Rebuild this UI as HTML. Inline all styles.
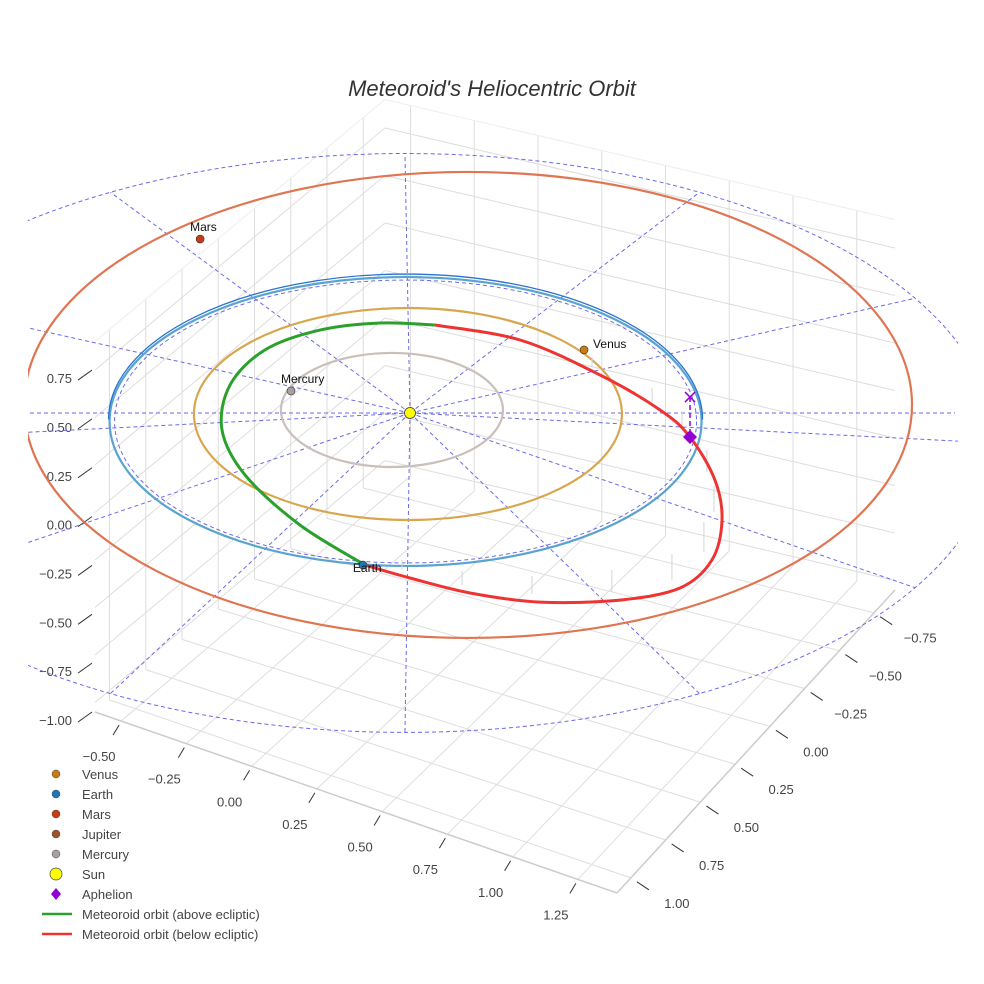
<!DOCTYPE html>
<html><head><meta charset="utf-8"><style>
body{margin:0;background:#fff}
svg{display:block;font-family:"Liberation Sans",sans-serif}
</style></head><body>
<svg id="chart" width="984" height="984" viewBox="0 0 984 984" xmlns="http://www.w3.org/2000/svg">
<rect width="984" height="984" fill="#fff"/>
<defs><clipPath id="clip"><rect x="28" y="95" width="930" height="680"/></clipPath></defs>
<text x="492" y="96" text-anchor="middle" font-size="22" font-style="italic" fill="#333">Meteoroid's Heliocentric Orbit</text>
<g id="box"></g>
<g id="axes"></g>
<g id="plot" clip-path="url(#clip)"></g>
<g id="legend"></g>
</svg>
<script>
// ---- data ----
const planetNames = ["Mercury","Venus","Earth","Mars"];
const orbitCx = [-0.061,-0.007,-0.015,0.196];
const orbitCy = [0.021,-0.007,-0.059,0.056];
const orbitA = [0.375,0.723,1.0,1.5];
const orbitB = [0.396,0.736,1.003,1.618];
const orbitColors = ["#c9bfbb","#d8a64c","#59a3cf","#e07552"];
const planetU = [-0.402,0.588,-0.159,-0.709];
const planetV = [0.153,0.438,-1.056,1.208];
const planetColors = ["#a8a0a0","#c97d10","#1f77b4","#c83c10"];
const greenU = [-0.152,-0.372,-0.557,-0.635,-0.608,-0.490,-0.304,-0.101,0.084];
const greenV = [-1.056,-0.778,-0.431,-0.118,0.194,0.438,0.576,0.625,0.611];
const redU = [0.084,0.372,0.642,0.845,0.946,1.030,1.054,1.020,0.912,0.709,0.439,0.203,0,-0.152];
const redV = [0.611,0.507,0.264,0.021,-0.167,-0.465,-0.743,-1.021,-1.215,-1.299,-1.313,-1.250,-1.146,-1.056];
const aphelionU = [0.946], aphelionV = [-0.167];
const xTicks = ["−0.50","−0.25","0.00","0.25","0.50","0.75","1.00","1.25"];
const xTickVals = [-0.5,-0.25,0,0.25,0.5,0.75,1,1.25];
const yTicks = ["1.00","0.75","0.50","0.25","0.00","−0.25","−0.50","−0.75"];
const yTickVals = [1,0.75,0.5,0.25,0,-0.25,-0.5,-0.75];
const zTicks = ["0.75","0.50","0.25","0.00","−0.25","−0.50","−0.75","−1.00"];
const zTickVals = [0.75,0.5,0.25,0,-0.25,-0.5,-0.75,-1];
const radialAngles = [0,30,60,90,120,150,180,210,240,270,300,330];
const legendLabels = ["Venus","Earth","Mars","Jupiter","Mercury","Sun","Aphelion","Meteoroid orbit (above ecliptic)","Meteoroid orbit (below ecliptic)"];
const legendColors = ["#c97d10","#1f77b4","#c83c10","#a0522d","#a8a0a0","#ffff00","#9400d3","#2ca02c","#ee3333"];

const NS="http://www.w3.org/2000/svg";
function mk(tag,attrs,parent){const e=document.createElementNS(NS,tag);for(const k in attrs)e.setAttribute(k,attrs[k]);parent.appendChild(e);return e;}
const P=(u,v)=>[410+296*u,413-144*v];
const XMIN=-0.6,XMAX=1.4,YMAX=1.1,YMIN=-0.9,ZMIN=-1.05,ZMAX=0.9;
const cL=[95,712],cF=[617,893],cR=[895,590],cB=[385,470];
function floor(x,y){const s=(x-XMIN)/(XMAX-XMIN),t=(YMAX-y)/(YMAX-YMIN);
 const a=[cL[0]+(cF[0]-cL[0])*s,cL[1]+(cF[1]-cL[1])*s],b=[cB[0]+(cR[0]-cB[0])*s,cB[1]+(cR[1]-cB[1])*s];
 return [a[0]+(b[0]-a[0])*t,a[1]+(b[1]-a[1])*t];}
function B3(x,y,z){const f=floor(x,y);return [f[0],f[1]-(z-ZMIN)*190];}
const box=document.getElementById('box'),axes=document.getElementById('axes'),plot=document.getElementById('plot'),leg=document.getElementById('legend');
function line(p,q,st,w,parent,name,dash){const e=mk('line',{x1:p[0],y1:p[1],x2:q[0],y2:q[1],stroke:st,'stroke-width':w},parent);if(dash)e.setAttribute('stroke-dasharray',dash);
 
 return e;}
const g='#dedede';
xTickVals.forEach(x=>line(floor(x,YMAX),floor(x,YMIN),g,1,box,'floor-grid-x'));
yTickVals.forEach(y=>line(floor(XMIN,y),floor(XMAX,y),g,1,box,'floor-grid-y'));
yTickVals.forEach(y=>line(B3(XMIN,y,ZMIN),B3(XMIN,y,ZMAX),g,1,box,'left-wall-grid'));
xTickVals.forEach(x=>line(B3(x,YMIN,ZMIN),B3(x,YMIN,ZMAX),g,1,box,'right-wall-grid'));
zTickVals.forEach(z=>{line(B3(XMIN,YMAX,z),B3(XMIN,YMIN,z),g,1,box,'left-wall-z-grid');line(B3(XMIN,YMIN,z),B3(XMAX,YMIN,z),g,1,box,'right-wall-z-grid');});
[[ [XMIN,YMAX],[XMAX,YMAX] ],[ [XMAX,YMAX],[XMAX,YMIN] ]].forEach(e=>line(floor(...e[0]),floor(...e[1]),'#cccccc',1.5,box,'floor-edge'));
line(B3(XMIN,YMIN,ZMAX),B3(XMIN,YMAX,ZMAX),'#eee',1,box,'box-top-edge');
line(B3(XMIN,YMIN,ZMAX),B3(XMAX,YMIN,ZMAX),'#eee',1,box,'box-top-edge');
function txt(x,y,s,anchor,parent,name,size,col){const t=mk('text',{x:x,y:y,'text-anchor':anchor,'font-size':size||13,fill:col||'#444'},parent);t.textContent=s;
 
 return t;}
xTicks.forEach((s,i)=>{const p=floor(xTickVals[i],YMAX);line([p[0]-8,p[1]+14],[p[0]-2,p[1]+4],'#333',1,axes,'x-tick');txt(p[0]-22,p[1]+40,s,'middle',axes,'x-tick-label');});
yTicks.forEach((s,i)=>{const p=floor(XMAX,yTickVals[i]);line([p[0]+6,p[1]+4],[p[0]+18,p[1]+12],'#333',1,axes,'y-tick');txt(p[0]+46,p[1]+30,s,'middle',axes,'y-tick-label');});
zTicks.forEach((s,i)=>{const py=524.6-195.4*zTickVals[i];line([78,py+2],[92,py-8],'#333',1,axes,'z-tick');txt(72,py+5,s,'end',axes,'z-tick-label');});
const blue='#6a6aea';
const oc=P(-0.017,-0.208);
let e=mk('ellipse',{cx:oc[0],cy:oc[1],rx:296*1.99,ry:144*2.01,fill:'none',stroke:blue,'stroke-width':1,'stroke-dasharray':'4,3'},plot);


radialAngles.forEach(a=>{const r=a*Math.PI/180;const q=[oc[0]+296*1.99*Math.cos(r),oc[1]-144*2.01*Math.sin(r)];line(P(0,0),q,blue,1,plot,'radial-guide','4,3');});
line([30,413],[955,413],blue,1,plot,'ecliptic-axis-line','4,3');
orbitA.forEach((a,i)=>{const c=P(orbitCx[i],orbitCy[i]);const el=mk('ellipse',{cx:c[0],cy:c[1],rx:296*a,ry:144*orbitB[i],fill:'none',stroke:orbitColors[i],'stroke-width':2.2},plot);
 
 });
{const c=P(orbitCx[2],orbitCy[2]);
 let el=mk('path',{d:`M${c[0]-296*orbitA[2]-1} ${c[1]-2} A${296*orbitA[2]+1} ${144*orbitB[2]+1} 0 0 1 ${c[0]+296*orbitA[2]+1} ${c[1]-2}`,fill:'none',stroke:'#2a72d4','stroke-width':1.3},plot);
 
 
 el=mk('ellipse',{cx:c[0],cy:c[1],rx:296*orbitA[2]-5,ry:144*orbitB[2]-3,fill:'none',stroke:blue,'stroke-width':1,'stroke-dasharray':'4,3'},plot);
 
 }
redU.forEach((u,i)=>{if(i<2||i>12)return;const p=P(u,redV[i]);const d=Math.max(6,30-4*Math.abs(i-7));
 line([p[0]-8,p[1]-d-8],[p[0]-8,p[1]-8],'#d4d4d4',1,plot,'depth-stem');});
function path(us,vs,col,name){const pts=us.map((u,i)=>P(u,vs[i]));
 let d='M'+pts[0][0].toFixed(1)+' '+pts[0][1].toFixed(1);
 for(let i=0;i<pts.length-1;i++){const p0=pts[Math.max(0,i-1)],p1=pts[i],p2=pts[i+1],p3=pts[Math.min(pts.length-1,i+2)];
  const c1=[p1[0]+(p2[0]-p0[0])/6,p1[1]+(p2[1]-p0[1])/6],c2=[p2[0]-(p3[0]-p1[0])/6,p2[1]-(p3[1]-p1[1])/6];
  d+=` C${c1[0].toFixed(1)} ${c1[1].toFixed(1)} ${c2[0].toFixed(1)} ${c2[1].toFixed(1)} ${p2[0].toFixed(1)} ${p2[1].toFixed(1)}`;}
 const el=mk('path',{d:d,fill:'none',stroke:col,'stroke-width':3,'stroke-linejoin':'round'},plot);
 
 }
path(greenU,greenV,'#2ca02c','meteoroid-orbit-above');
path(redU,redV,'#ee3333','meteoroid-orbit-below');
{const p=P(aphelionU[0],aphelionV[0]);
 line([p[0],p[1]-40],[p[0],p[1]],'#9400d3',1.5,plot,'aphelion-drop','5,3');
 const x1=mk('path',{d:`M${p[0]-5} ${p[1]-45}L${p[0]+5} ${p[1]-35}M${p[0]+5} ${p[1]-45}L${p[0]-5} ${p[1]-35}`,stroke:'#9400d3','stroke-width':1.5},plot);
 
 
 const dm=mk('path',{d:`M${p[0]} ${p[1]-7}L${p[0]+7} ${p[1]}L${p[0]} ${p[1]+7}L${p[0]-7} ${p[1]}Z`,fill:'#9400d3'},plot);
 
 }
planetNames.forEach((n,i)=>{const p=P(planetU[i],planetV[i]);const c=mk('circle',{cx:p[0],cy:p[1],r:4,fill:planetColors[i],stroke:'#333','stroke-width':0.6},plot);
 
 
 const dx=n==="Venus"?9:-10;
 txt(p[0]+dx,p[1]+(n==="Venus"?-2:(n==="Earth"?7:-8)),n,'start',plot,n.toLowerCase()+'-label',12,'#111');});
{const p=P(0,0);const s=mk('circle',{cx:p[0],cy:p[1],r:5.5,fill:'#ffff00',stroke:'#333','stroke-width':0.8},plot);
 
 }
legendLabels.forEach((s,i)=>{const y=774+20*i;let m;
 if(i<5)m=mk('circle',{cx:56,cy:y,r:4,fill:legendColors[i],stroke:'#444','stroke-width':0.5},leg);
 else if(i===5)m=mk('circle',{cx:56,cy:y,r:6,fill:legendColors[i],stroke:'#444','stroke-width':0.7},leg);
 else if(i===6)m=mk('path',{d:`M56 ${y-6}L61 ${y}L56 ${y+6}L51 ${y}Z`,fill:legendColors[i]},leg);
 else m=mk('line',{x1:42,y1:y,x2:72,y2:y,stroke:legendColors[i],'stroke-width':2.5},leg);
 
 
 txt(82,y+5,s,'start',leg,'legend-entry',13,'#444');});
</script>
</body></html>
